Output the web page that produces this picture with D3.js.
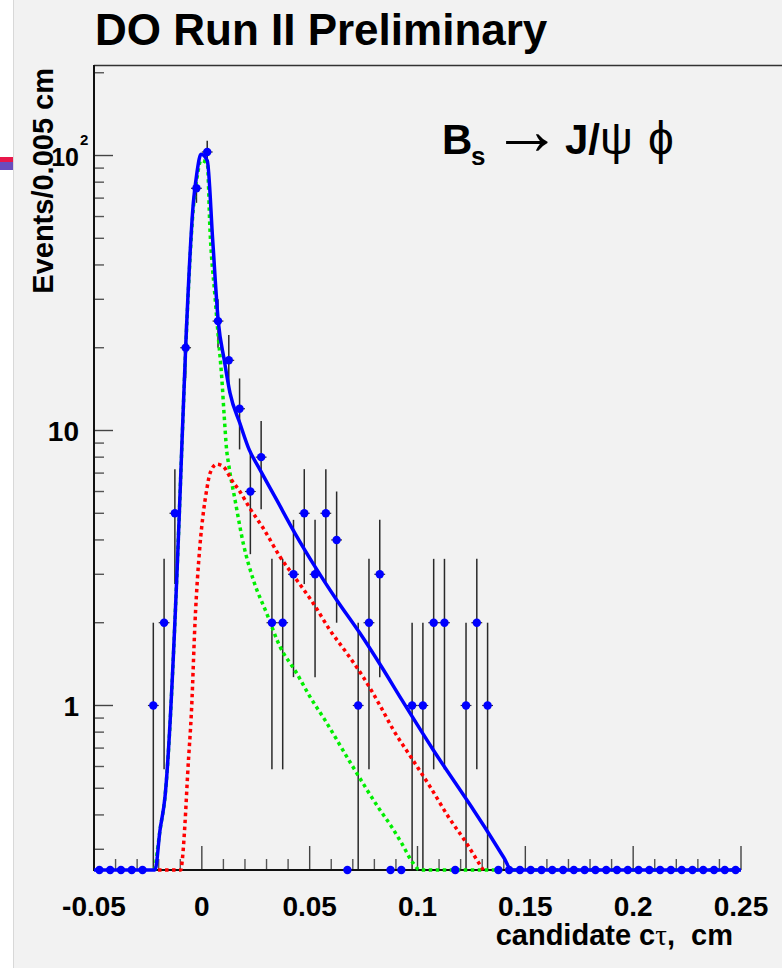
<!DOCTYPE html>
<html><head><meta charset="utf-8">
<script src="https://cdn.jsdelivr.net/npm/d3@7"></script>
<style>
html,body{margin:0;padding:0;background:#fff;}
svg{display:block;}
text{font-family:"Liberation Sans",Arial,sans-serif;}
</style></head>
<body>
<script>
// ---- data ----
const binCenters = [-0.0475,-0.0425,-0.0375,-0.0325,-0.0275,-0.0225,-0.0175,-0.0125,-0.0075,-0.0025,
 0.0025,0.0075,0.0125,0.0175,0.0225,0.0275,0.0325,0.0375,0.0425,0.0475,
 0.0525,0.0575,0.0625,0.0675,0.0725,0.0775,0.0825,0.0875,0.0925,0.0975,
 0.1025,0.1075,0.1125,0.1175,0.1225,0.1275,0.1325,0.1375,0.1425,0.1475,
 0.1525,0.1575,0.1625,0.1675,0.1725,0.1775,0.1825,0.1875,0.1925,0.1975,
 0.2025,0.2075,0.2125,0.2175,0.2225,0.2275,0.2325,0.2375,0.2425,0.2475];
const binHalfWidth = 0.0025;
const counts = [0,0,0,0,0,1,2,5,20,76,
 103,25,18,12,6,8,2,2,3,5,
 3,5,4,0,1,2,3,0,0,1,
 1,2,2,0,1,2,1,0,0,0,
 0,0,0,0,0,0,0,0,0,0,
 0,0,0,0,0,0,0,0,0,0];

// fit curves: [c*tau, events]; 0 = below axis
const totalFit = [[-0.05,0],[-0.0217,0],[-0.0194,0.352],[-0.01708,0.465],[-0.01091,4.0],[-0.00934,8.5],
 [-0.00748,20.2],[-0.00396,67],[-0.00224,87],[-0.0004,101],[0.00253,95.7],[0.00503,49.3],[0.00763,24.9],
 [0.01041,18.0],[0.01305,13.7],[0.01769,10.6],[0.0220,8.5],[0.02617,7.39],[0.03471,5.59],[0.0432,4.23],
 [0.05247,3.20],[0.06253,2.42],[0.07334,1.83],[0.0834,1.38],[0.09267,1.05],[0.10732,0.689],[0.1250,0.428],
 [0.13208,0.352],[0.1400,0.28],[0.14367,0],[0.25,0]];
const signalFit = [[-0.0203,0],[-0.0097,0],[-0.00906,0.274],[-0.00781,0.373],[-0.00656,0.567],[-0.00471,0.99],
 [-0.00318,1.99],[-0.00086,3.83],[0.00067,5.0],[0.00225,6.08],[0.00378,6.99],[0.00689,7.54],[0.00995,7.39],
 [0.0138,6.61],[0.0177,5.99],[0.0223,5.21],[0.0285,4.41],[0.0362,3.48],[0.0440,2.86],[0.0517,2.35],
 [0.0594,1.88],[0.0672,1.55],[0.0748,1.27],[0.0826,1.0],[0.0888,0.815],[0.0973,0.643],[0.1058,0.507],
 [0.1143,0.394],[0.1228,0.315],[0.1290,0.263],[0.1305,0]];
const promptFit = [[-0.0217,0],[-0.0194,0.352],[-0.01708,0.465],[-0.01091,4.0],[-0.00934,8.4],[-0.00748,19.8],
 [-0.00396,64],[-0.00224,83],[-0.0004,96],[0.00253,93.7],[0.00378,53.6],[0.0061,30.7],[0.00763,21.9],
 [0.0092,15.7],[0.0104,11.2],[0.0115,8.5],[0.01236,7.6],[0.0154,5.59],[0.0192,3.89],[0.0239,2.86],
 [0.0301,2.16],[0.0362,1.64],[0.0440,1.31],[0.0501,1.077],[0.0571,0.885],[0.0687,0.623],[0.0826,0.417],
 [0.0880,0.362],[0.0927,0.315],[0.0980,0.267],[0.1011,0],[0.25,0]];

const xMajorTicks = [-0.05,0,0.05,0.1,0.15,0.2,0.25];
const xTickLabels = ["-0.05","0","0.05","0.1","0.15","0.2","0.25"];
const xMinorTicks = [-0.04,-0.03,-0.02,-0.01,0.01,0.02,0.03,0.04,0.06,0.07,0.08,0.09,0.11,0.12,0.13,0.14,
 0.16,0.17,0.18,0.19,0.21,0.22,0.23,0.24];
const yMajorTicks = [1,10,100];
const yMinorTicks = [0.3,0.4,0.5,0.6,0.7,0.8,0.9,2,3,4,5,6,7,8,9,20,30,40,50,60,70,80,90,200];
const xDomain = [-0.05,0.25];
const yDomain = [0.2522,213.4];

const titleText = "DO Run II Preliminary";
const yTitle = "Events/0.005 cm";

// ---- drawing ----
const W=782,H=968;
const L=94,R=741,T=65,B=870;
const svg=d3.select("body").append("svg").attr("width",W).attr("height",H);
svg.append("rect").attr("x",0).attr("y",0).attr("width",W).attr("height",H).attr("fill","#ffffff");
svg.append("rect").attr("x",13).attr("y",0).attr("width",W-13).attr("height",H).attr("fill","#f2f2f2");
svg.append("line").attr("x1",13.5).attr("x2",13.5).attr("y1",0).attr("y2",H).attr("stroke","#d8d8d8").attr("stroke-width",1);
svg.append("rect").attr("x",0).attr("y",157).attr("width",13).attr("height",5).attr("fill","#e8174a");
svg.append("rect").attr("x",0).attr("y",162).attr("width",13).attr("height",8).attr("fill","#6a4cbd");

const x=d3.scaleLinear().domain(xDomain).range([L,R]);
const y=d3.scaleLog().domain(yDomain).range([B,T]);
const yMin=yDomain[0];
const yc=v=>y(Math.max(v,yMin));

// frame
svg.append("line").attr("x1",L).attr("x2",W).attr("y1",T+0.5).attr("y2",T+0.5).attr("stroke","#333").attr("stroke-width",1.3);

// ticks
const g=svg.append("g");
g.selectAll(".xmaj").data(xMajorTicks).join("line")
 .attr("x1",d=>x(d)).attr("x2",d=>x(d)).attr("y1",B).attr("y2",B-24).attr("stroke","#444").attr("stroke-width",1.4);
g.selectAll(".xmin").data(xMinorTicks).join("line")
 .attr("x1",d=>x(d)).attr("x2",d=>x(d)).attr("y1",B).attr("y2",B-11).attr("stroke","#555").attr("stroke-width",1.4);
g.selectAll(".ymaj").data(yMajorTicks).join("line")
 .attr("x1",L).attr("x2",L+19).attr("y1",d=>y(d)).attr("y2",d=>y(d)).attr("stroke","#444").attr("stroke-width",1.4);
g.selectAll(".ymin").data(yMinorTicks).join("line")
 .attr("x1",L).attr("x2",L+10).attr("y1",d=>y(d)).attr("y2",d=>y(d)).attr("stroke","#555").attr("stroke-width",1.4);

// tick labels
g.selectAll(".xl").data(xMajorTicks).join("text")
 .attr("x",d=>x(d)).attr("y",916).attr("text-anchor","middle")
 .attr("font-size",28).attr("font-weight","bold").attr("fill","#000").text((d,i)=>xTickLabels[i]);
const yl=g.append("g").attr("font-weight","bold").attr("fill","#000");
yl.append("text").attr("x",79).attr("y",y(10)+10.5).attr("text-anchor","end").attr("font-size",28).text("10");
yl.append("text").attr("x",79).attr("y",y(1)+10.5).attr("text-anchor","end").attr("font-size",28).text("1");
yl.append("text").attr("x",79).attr("y",y(100)+10.5).attr("text-anchor","end").attr("font-size",25).text("10");
yl.append("text").attr("x",80).attr("y",y(100)-10.5).attr("text-anchor","start").attr("font-size",15).text("2");

// titles
svg.append("text").attr("x",95).attr("y",45).attr("font-size",44).attr("font-weight","bold").text(titleText);
svg.append("text").attr("transform","translate(53,68) rotate(-90)").attr("text-anchor","end")
 .attr("font-size",29).attr("font-weight","bold").text(yTitle);
const xt=svg.append("text").attr("x",733).attr("y",945).attr("text-anchor","end").attr("font-size",29)
 .attr("font-weight","bold").style("white-space","pre");
xt.append("tspan").text("candidate c");
xt.append("tspan").attr("font-family","'Liberation Serif',serif").attr("font-weight","normal").text("\u03c4");
xt.append("tspan").text(",  cm");

// decay label
const lab=svg.append("g");
lab.append("text").attr("x",442).attr("y",154).attr("font-size",42).attr("font-weight","bold").text("B");
lab.append("text").attr("x",471).attr("y",165).attr("font-size",26).attr("font-weight","bold").text("s");
lab.append("text").attr("transform","translate(492,154)").attr("font-size",70)
 .attr("font-family","'DejaVu Sans',sans-serif").text("\u2192");
lab.append("text").attr("x",565).attr("y",154).attr("font-size",42).attr("font-weight","bold").text("J/");
lab.append("text").attr("x",600).attr("y",154).attr("font-size",46).attr("font-family","'Liberation Serif',serif").text("\u03c8");
lab.append("text").attr("x",648).attr("y",154).attr("font-size",46).attr("font-family","'Liberation Serif',serif").text("\u03d5");

// error bars
const pts=binCenters.map((c,i)=>({c,n:counts[i]}));
const nz=pts.filter(p=>p.n>0);
const eb=svg.append("g").attr("stroke","#2a2a2a").attr("stroke-width",1.5);
eb.selectAll(".v").data(nz).join("line")
 .attr("x1",d=>x(d.c)).attr("x2",d=>x(d.c))
 .attr("y1",d=>yc(d.n+Math.sqrt(d.n))).attr("y2",d=>yc(d.n-Math.sqrt(d.n)));
eb.selectAll(".h").data(nz).join("line")
 .attr("x1",d=>x(d.c-binHalfWidth)).attr("x2",d=>x(d.c+binHalfWidth))
 .attr("y1",d=>y(d.n)).attr("y2",d=>y(d.n)).attr("stroke-width",1.2);

// axis lines
svg.append("line").attr("x1",L).attr("x2",L).attr("y1",T).attr("y2",B+1).attr("stroke","#111").attr("stroke-width",2);
svg.append("line").attr("x1",L).attr("x2",R).attr("y1",B).attr("y2",B).attr("stroke","#111").attr("stroke-width",2);

// curves
const line=d3.line().x(d=>x(d[0])).y(d=>yc(d[1])).curve(d3.curveMonotoneX);
svg.append("path").attr("d",line(promptFit)).attr("fill","none").attr("stroke","#00ee00")
 .attr("stroke-width",3.5).attr("stroke-dasharray","3.5,3.5");
svg.append("path").attr("d",line(signalFit)).attr("fill","none").attr("stroke","#ff0000")
 .attr("stroke-width",3.5).attr("stroke-dasharray","3.5,3.5");
svg.append("path").attr("d",line(totalFit)).attr("fill","none").attr("stroke","#0000ff")
 .attr("stroke-width",3.5);

// markers
svg.append("g").selectAll("circle").data(pts).join("circle")
 .attr("cx",d=>x(d.c)).attr("cy",d=>yc(d.n)).attr("r",4.2).attr("fill","#0000ff");
</script>
</body></html>
